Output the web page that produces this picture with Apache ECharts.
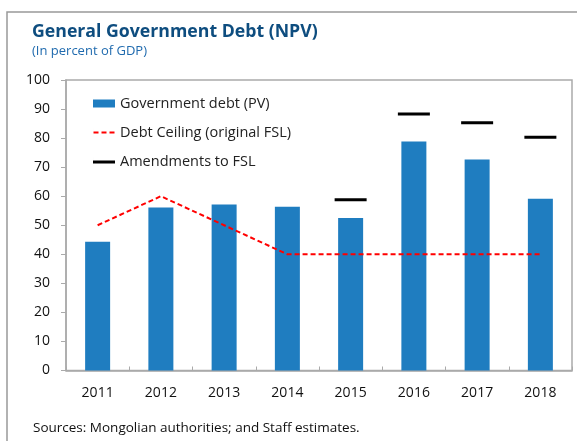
<!DOCTYPE html>
<html>
<head>
<meta charset="utf-8">
<script src="https://cdn.jsdelivr.net/npm/echarts@6/dist/echarts.min.js"></script>
<style>
  html, body { margin: 0; padding: 0; background: #fff; }
  #chart { width: 577px; height: 441px; }
</style>
</head>
<body>
<div id="chart"></div>
<script>
const years = ['2011', '2012', '2013', '2014', '2015', '2016', '2017', '2018'];
const govDebt = [44.3, 56.1, 57.1, 56.4, 52.5, 78.8, 72.6, 59.1];
const debtCeiling = [50, 60, 50, 40, 40, 40, 40, 40];
const amendments = [null, null, null, null, 58.8, 88.3, 85.3, 80.3];

const font = 'Open Sans';
const myChart = echarts.init(document.getElementById('chart'));

const option = {
  animation: false,
  textStyle: { fontFamily: font },
  title: {
    text: 'General Government Debt (NPV)',
    subtext: '(In percent of GDP)',
    left: 27,
    top: 18,
    itemGap: 4,
    textStyle: { fontFamily: font, fontSize: 17.7, fontWeight: 'bold', color: '#0E4D7F' },
    subtextStyle: { fontFamily: font, fontSize: 13, color: '#1F6AAE' }
  },
  graphic: [
    {
      type: 'rect',
      shape: { x: 7, y: 12, width: 620, height: 500 },
      style: { fill: 'none', stroke: '#999', lineWidth: 1.5 },
      silent: true
    },
    {
      type: 'text',
      left: 33,
      top: 421,
      style: { text: 'Sources: Mongolian authorities; and Staff estimates.', font: '13.5px "Open Sans"', fill: '#111' }
    }
  ],
  legend: {
    orient: 'vertical',
    left: 88,
    top: 91,
    itemWidth: 22,
    itemHeight: 8,
    itemGap: 14,
    textStyle: { fontFamily: font, fontSize: 14.5, color: '#222' },
    data: [
      { name: 'Government debt (PV)', icon: 'rect' },
      { name: 'Debt Ceiling (original FSL)', icon: 'path://M0,3H5V5H0Z M8,3H13V5H8Z M16,3H21V5H16Z M0,0H0.01V8H0Z' },
      { name: 'Amendments to FSL', icon: 'path://M0,3H22V6H0Z M0,0H0.01V8H0Z' }
    ]
  },
  grid: {
    left: 66,
    right: 5,
    top: 80,
    bottom: 70.5,
    show: true,
    borderColor: '#aaa',
    borderWidth: 1.5
  },
  xAxis: {
    type: 'category',
    data: years,
    axisLine: { lineStyle: { color: '#aaa', width: 1.5 } },
    axisTick: { show: true, inside: true, length: 4, lineStyle: { color: '#aaa' } },
    axisLabel: { fontSize: 14, color: '#111', margin: 16 }
  },
  yAxis: {
    type: 'value',
    min: 0,
    max: 100,
    interval: 10,
    axisLine: { show: true, lineStyle: { color: '#aaa', width: 1.5 } },
    axisTick: { show: true, length: 5, lineStyle: { color: '#aaa' } },
    splitLine: { show: false },
    axisLabel: { fontSize: 14, color: '#111', margin: 16 }
  },
  series: [
    {
      name: 'Government debt (PV)',
      type: 'bar',
      data: govDebt,
      barWidth: 25,
      itemStyle: { color: '#1F7DC0' }
    },
    {
      name: 'Debt Ceiling (original FSL)',
      type: 'line',
      data: debtCeiling,
      symbol: 'none',
      lineStyle: { color: '#FF0000', width: 2, type: [5, 3] },
      itemStyle: { color: '#FF0000' }
    },
    {
      name: 'Amendments to FSL',
      type: 'custom',
      data: amendments.map((v, i) => [i, v]),
      itemStyle: { color: '#000' },
      renderItem: function (params, api) {
        const v = api.value(1);
        if (v == null || isNaN(v)) return null;
        const p = api.coord([api.value(0), v]);
        return {
          type: 'line',
          shape: { x1: p[0] - 16, y1: p[1], x2: p[0] + 16, y2: p[1] },
          style: { stroke: '#000', lineWidth: 3 }
        };
      }
    }
  ]
};

myChart.setOption(option);
</script>
</body>
</html>
